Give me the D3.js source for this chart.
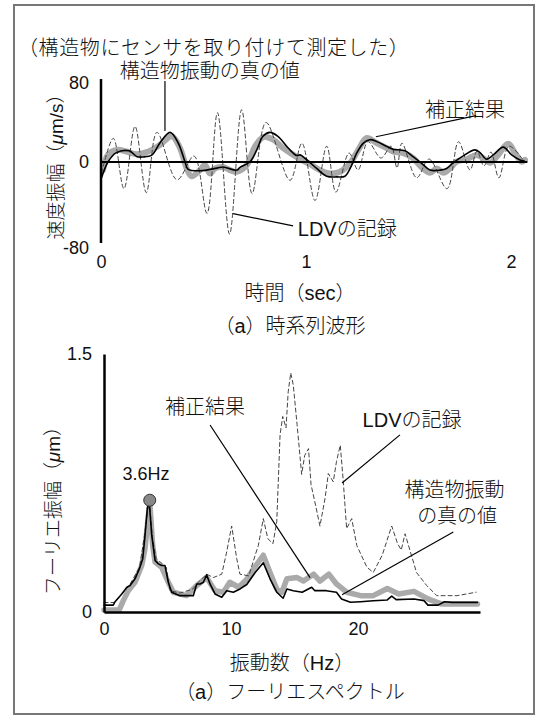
<!DOCTYPE html>
<html>
<head>
<meta charset="utf-8">
<script src="https://cdn.jsdelivr.net/npm/d3@7"></script>
<style>
  body { margin: 0; background: #fff; }
  text { font-family: "Liberation Sans", "Noto Sans CJK JP", sans-serif; fill: #111; font-weight: 300; }
</style>
</head>
<body>
<div id="chart"></div>
<script>
// ---- data ----
// (a) time series: [time (s), velocity (um/s)]
const waveTrue = [
  [0.003,-15.7],[0.034,0],[0.073,9.2],[0.137,11.3],[0.176,5.4],[0.205,5.1],[0.249,7.2],
  [0.288,19.5],[0.337,30],[0.376,19.5],[0.41,0],[0.424,-7.2],[0.483,-8.9],[0.566,-6.2],
  [0.595,-5.1],[0.663,-8.2],[0.678,-5.4],[0.727,0.3],[0.76,12.3],[0.79,26],[0.824,30],
  [0.863,26],[0.912,14.4],[0.955,6.5],[0.971,7.2],[0.995,3.8],[1.052,-6.5],[1.101,-14.4],
  [1.15,-15.1],[1.19,-14.4],[1.223,-3.1],[1.247,8.9],[1.28,19.2],[1.312,22.6],[1.345,20.8],
  [1.394,15.7],[1.424,13],[1.483,11.3],[1.522,5.4],[1.564,-1.3],[1.605,-8.2],[1.654,-8.2],
  [1.686,-6.5],[1.719,-0.7],[1.767,6.2],[1.824,12.3],[1.849,9.5],[1.881,2.8],[1.914,7.2],
  [1.962,15.1],[2.003,7.2],[2.044,2.1],[2.063,1.3]
];
const waveCorrected = [
  [0.01,-8.2],[0.034,7.2],[0.077,12.3],[0.125,10.6],[0.174,7.9],[0.231,10.6],[0.288,17.4],
  [0.345,26],[0.385,14.4],[0.418,-6.5],[0.442,-14.4],[0.483,-8.2],[0.507,-3.1],[0.532,-11.6],
  [0.556,-6.5],[0.595,-5.1],[0.629,-8.2],[0.662,-9.9],[0.711,-3.1],[0.751,15.7],[0.792,25.3],
  [0.84,22.6],[0.889,14],[0.938,7.2],[0.979,2.1],[1.02,-2.1],[1.068,-8.2],[1.117,-11.6],
  [1.166,-9.9],[1.215,-1.3],[1.255,12.3],[1.296,24.3],[1.345,19.2],[1.394,14],[1.426,10.6],
  [1.475,8.9],[1.523,3.8],[1.564,-5.4],[1.605,-11],[1.638,-6.5],[1.67,-11],[1.702,-6.5],
  [1.735,0.3],[1.784,2.8],[1.833,7.2],[1.865,3.8],[1.898,-0.7],[1.93,5.4],[1.987,18.5],
  [2.02,8.9],[2.052,0.3],[2.068,2.1]
];
const waveLdv = [
  [0.003,-11],[0.06,24],[0.112,-27],[0.166,36],[0.221,-31],[0.273,30],[0.371,-18],[0.454,6],
  [0.517,-52],[0.568,50],[0.627,-73],[0.686,53],[0.737,-32],[0.805,40],[0.922,-18.5],[0.98,19],
  [1.044,-39],[1.101,16],[1.146,-30.5],[1.21,9],[1.254,-8],[1.302,20.5],[1.366,4],[1.415,16],
  [1.444,-6],[1.468,19],[1.54,-16],[1.6,3],[1.688,-27],[1.744,20.5],[1.8,-8],[1.834,11],
  [1.868,-4],[1.902,10],[1.941,-16],[1.99,16],[2.063,1]
];
const timeTicks = [0, 1, 2];
const velTicks = [-80, 0, 80];

// (b) Fourier spectrum: [frequency (Hz), amplitude (um)]
const specTrue = [
  [0,0.04],[0.73,0.04],[0.87,0.06],[1.4,0.105],[1.8,0.144],[2.05,0.154],[2.44,0.193],[2.78,0.25],
  [3.05,0.31],[3.23,0.445],[3.42,0.61],[3.57,0.63],[3.76,0.445],[4.02,0.3],[4.28,0.28],[4.54,0.27],
  [4.8,0.27],[5.06,0.173],[5.33,0.115],[5.98,0.095],[7.03,0.095],[7.3,0.163],[7.56,0.163],
  [7.82,0.173],[8.08,0.216],[8.35,0.163],[8.74,0.105],[9.27,0.086],[9.66,0.124],[10.18,0.115],
  [10.71,0.134],[11.24,0.16],[11.9,0.23],[12.54,0.286],[13.07,0.193],[13.6,0.115],[14.1,0.08],
  [14.4,0.134],[14.9,0.124],[15.6,0.115],[16.35,0.144],[16.6,0.124],[17.5,0.124],[18.3,0.115],
  [18.7,0.076],[19.4,0.057],[20.2,0.06],[21.2,0.065],[22.3,0.07],[22.65,0.092],[23,0.072],
  [24.4,0.076],[25.2,0.066],[25.5,0.04],[26.3,0.04],[26.8,0.06],[27.4,0.056],[29.4,0.056]
];
const specCorrected = [
  [0,0.012],[1.2,0.012],[1.52,0.066],[1.91,0.124],[2.44,0.173],[2.97,0.27],[3.23,0.37],[3.49,0.56],
  [3.62,0.62],[3.83,0.387],[4.02,0.29],[4.54,0.26],[5.06,0.173],[5.46,0.115],[6.5,0.095],[7.3,0.154],
  [8.08,0.2],[8.74,0.124],[9.4,0.115],[9.9,0.173],[10.6,0.144],[11.24,0.19],[11.76,0.25],[12.54,0.33],
  [13.07,0.23],[13.6,0.134],[14,0.115],[14.4,0.193],[15.2,0.2],[15.7,0.18],[16.5,0.22],[17,0.18],
  [17.7,0.22],[18.3,0.163],[19.1,0.115],[20.2,0.095],[21.2,0.095],[22.3,0.137],[23.2,0.105],
  [24.4,0.12],[25.5,0.076],[26.6,0.046],[29.4,0.046]
];
const specLdv = [
  [0,0.055],[0.8,0.055],[1.4,0.105],[2,0.155],[2.8,0.26],[3.2,0.45],[3.45,0.6],[3.6,0.62],[3.8,0.44],
  [4.1,0.31],[4.6,0.28],[4.9,0.26],[5.2,0.124],[6,0.11],[7,0.134],[7.56,0.183],[8.08,0.22],[8.6,0.2],
  [9.27,0.22],[9.66,0.35],[10.05,0.5],[10.45,0.31],[10.7,0.22],[11.4,0.21],[11.9,0.33],[12.15,0.387],
  [12.54,0.543],[12.9,0.426],[13.3,0.397],[13.6,0.524],[13.86,1.03],[14.07,1.137],[14.33,1.07],
  [14.5,1.28],[14.7,1.39],[14.9,1.32],[15.2,1.09],[15.56,0.8],[15.8,0.91],[16.1,0.95],[16.3,0.74],
  [16.6,0.64],[17,0.5],[17.4,0.66],[17.66,0.805],[18.05,0.757],[18.3,0.874],[18.6,0.97],[18.84,0.757],
  [19.1,0.485],[19.5,0.543],[19.9,0.387],[20.7,0.26],[21.2,0.23],[21.9,0.33],[22.65,0.5],[23.1,0.4],
  [23.4,0.36],[23.7,0.455],[24.6,0.23],[25.4,0.154],[26.2,0.095],[27.8,0.095],[29.3,0.115]
];
const freqTicks = [0, 10, 20];
const ampTicks = [0, 1.5];
const peakPoint = [3.6, 0.65];

// ---- drawing ----
const W = 548, H = 719;
const svg = d3.select("#chart").append("svg").attr("width", W).attr("height", H);

svg.append("rect")
  .attr("x", 14).attr("y", 5).attr("width", 520).attr("height", 709)
  .attr("fill", "none").attr("stroke", "#777").attr("stroke-width", 2);

const styles = {
  corrected: { stroke: "#aaa", width: 6, dash: null },
  ldv: { stroke: "#444", width: 1, dash: "4,3" },
  truth: { stroke: "#000", width: 1.6, dash: null }
};

const fmt = (d) => String(d);

function drawSeries(g, data, x, y, st, curve) {
  const line = d3.line().x((d) => x(d[0])).y((d) => y(d[1])).curve(curve);
  g.append("path")
    .datum(data)
    .attr("d", line)
    .attr("fill", "none")
    .attr("stroke", st.stroke)
    .attr("stroke-width", st.width)
    .attr("stroke-linejoin", "round")
    .attr("stroke-linecap", "round")
    .attr("stroke-dasharray", st.dash);
}

function leader(g, x, y, a, b) {
  g.append("line")
    .attr("x1", x(a[0])).attr("y1", y(a[1]))
    .attr("x2", x(b[0])).attr("y2", y(b[1]))
    .attr("stroke", "#000").attr("stroke-width", 1.2);
}

function label(g, x, y, p, txt, anchor = "middle") {
  return g.append("text")
    .attr("x", x(p[0])).attr("y", y(p[1]))
    .attr("text-anchor", anchor)
    .attr("dominant-baseline", "central")
    .style("font-size", "20px")
    .text(txt);
}

// ---------- (a) time series ----------
const x1 = d3.scaleLinear().domain([0, 2]).range([101, 511]);
const y1 = d3.scaleLinear().domain([-80, 80]).range([241, 83]);
const g1 = svg.append("g");

g1.append("text").attr("x", 18).attr("y", 48)
  .attr("dominant-baseline", "central")
  .style("font-size", "20px").style("letter-spacing", "0.6px")
  .text("（構造物にセンサを取り付けて測定した）");

drawSeries(g1, waveCorrected, x1, y1, styles.corrected, d3.curveCatmullRom);
drawSeries(g1, waveLdv, x1, y1, styles.ldv, d3.curveCatmullRom);
drawSeries(g1, waveTrue, x1, y1, styles.truth, d3.curveCatmullRom);

const yAxis1 = g1.append("g")
  .attr("transform", `translate(${x1(0)},0)`)
  .call(d3.axisLeft(y1).tickValues(velTicks).tickFormat(fmt).tickSize(0).tickPadding(12).tickSizeOuter(0));
yAxis1.select(".domain").attr("stroke-width", 2.5).attr("d", `M0,${y1(84)}V${y1(-82)}`);
yAxis1.selectAll("text").style("font-size", "18px").attr("font-family", null);
yAxis1.selectAll(".tick").filter((d) => d === -80).select("text").attr("dy", "0.7em");

// zero line
g1.append("line")
  .attr("x1", x1(0)).attr("x2", x1(2.08))
  .attr("y1", y1(0)).attr("y2", y1(0))
  .attr("stroke", "#000").attr("stroke-width", 2.2);

const xAxis1 = g1.append("g")
  .attr("transform", `translate(0,${y1(-80) + 12})`)
  .call(d3.axisBottom(x1).tickValues(timeTicks).tickFormat(fmt).tickSize(0).tickPadding(2));
xAxis1.select(".domain").remove();
xAxis1.selectAll("text").style("font-size", "18px").attr("font-family", null);

g1.append("text")
  .attr("transform", `translate(56,${y1(0)}) rotate(-90)`)
  .attr("text-anchor", "middle").attr("dominant-baseline", "central")
  .style("font-size", "19px")
  .call((t) => {
    t.append("tspan").text("速度振幅（");
    t.append("tspan").style("font-style", "italic").text("μ");
    t.append("tspan").text("m/s）");
  });

g1.append("text").attr("x", 300).attr("y", 293)
  .attr("text-anchor", "middle").attr("dominant-baseline", "central")
  .style("font-size", "20px").text("時間（sec）");
g1.append("text").attr("x", 290).attr("y", 326)
  .attr("text-anchor", "middle").attr("dominant-baseline", "central")
  .style("font-size", "20px").text("（a）時系列波形");

// annotations (data units)
label(g1, x1, y1, [0.53, 92], "構造物振動の真の値");
leader(g1, x1, y1, [0.312, 82], [0.312, 31.5]);
label(g1, x1, y1, [1.776, 53], "補正結果");
leader(g1, x1, y1, [1.83, 47], [1.341, 25.6]);
label(g1, x1, y1, [0.96, -67.5], "LDVの記録", "start");
leader(g1, x1, y1, [0.937, -64.6], [0.644, -52.3]);

// ---------- (b) Fourier spectrum ----------
const x2 = d3.scaleLinear().domain([0, 29.6]).range([104, 480]);
const y2 = d3.scaleLinear().domain([0, 1.5]).range([612, 354]);
const g2 = svg.append("g");

drawSeries(g2, specCorrected, x2, y2, { stroke: "#aaa", width: 5.5, dash: null }, d3.curveLinear);
drawSeries(g2, specLdv, x2, y2, styles.ldv, d3.curveLinear);
drawSeries(g2, specTrue, x2, y2, styles.truth, d3.curveLinear);

const yAxis2 = g2.append("g")
  .attr("transform", `translate(${x2(0)},0)`)
  .call(d3.axisLeft(y2).tickValues(ampTicks).tickFormat(fmt).tickSize(0).tickPadding(12).tickSizeOuter(0));
yAxis2.select(".domain").attr("stroke-width", 2.5);
yAxis2.selectAll("text").style("font-size", "18px").attr("font-family", null);

const xAxis2 = g2.append("g")
  .attr("transform", `translate(0,${y2(0)})`)
  .call(d3.axisBottom(x2).tickValues(freqTicks).tickFormat(fmt).tickSize(0).tickPadding(10).tickSizeOuter(0));
xAxis2.select(".domain").attr("stroke-width", 2.5);
xAxis2.selectAll("text").style("font-size", "18px").attr("font-family", null);

g2.append("text")
  .attr("transform", `translate(53,506) rotate(-90)`)
  .attr("text-anchor", "middle").attr("dominant-baseline", "central")
  .style("font-size", "19px")
  .call((t) => {
    t.append("tspan").text("フーリエ振幅（");
    t.append("tspan").style("font-style", "italic").text("μ");
    t.append("tspan").text("m）");
  });

g2.append("text").attr("x", 292).attr("y", 663)
  .attr("text-anchor", "middle").attr("dominant-baseline", "central")
  .style("font-size", "20px").text("振動数（Hz）");
g2.append("text").attr("x", 290).attr("y", 692)
  .attr("text-anchor", "middle").attr("dominant-baseline", "central")
  .style("font-size", "20px").text("（a）フーリエスペクトル");

// peak marker
g2.append("circle")
  .attr("cx", x2(peakPoint[0])).attr("cy", y2(peakPoint[1])).attr("r", 6)
  .attr("fill", "#888").attr("stroke", "#333").attr("stroke-width", 1);
label(g2, x2, y2, [3.3, 0.8], "3.6Hz").style("font-size", "18px");

label(g2, x2, y2, [7.95, 1.19], "補正結果");
leader(g2, x2, y2, [8.35, 1.087], [16.22, 0.2]);
label(g2, x2, y2, [24.25, 1.115], "LDVの記録");
leader(g2, x2, y2, [23.3, 1.03], [18.74, 0.75]);
label(g2, x2, y2, [27.6, 0.71], "構造物振動");
label(g2, x2, y2, [27.8, 0.56], "の真の値");
leader(g2, x2, y2, [27.5, 0.465], [18.74, 0.1]);
</script>
</body>
</html>
